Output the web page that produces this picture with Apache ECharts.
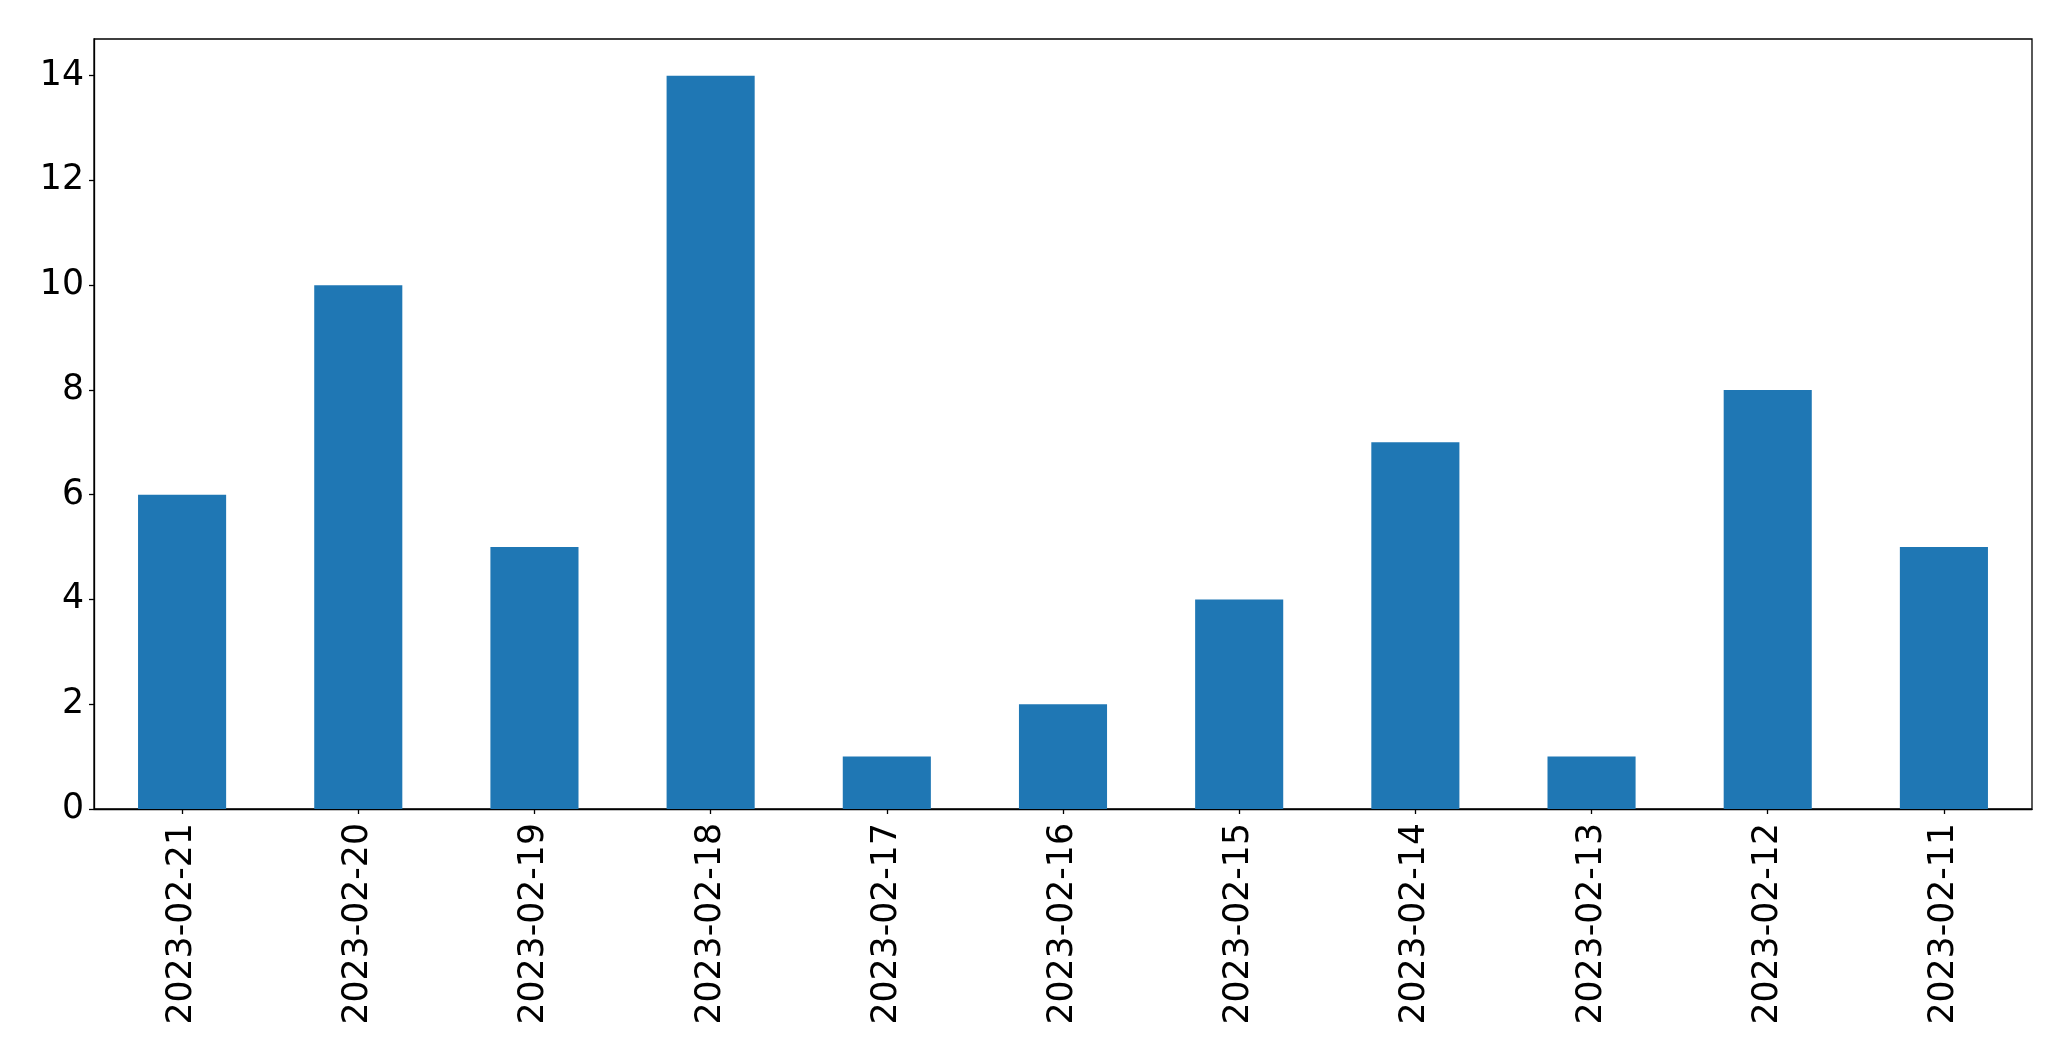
<!DOCTYPE html>
<html>
<head>
<meta charset="utf-8">
<script src="https://cdn.jsdelivr.net/npm/echarts@6/dist/echarts.min.js"></script>
<style>
html,body{margin:0;padding:0;background:#fff;}
#chart{width:2071px;height:1061px;}
</style>
</head>
<body>
<div id="chart"></div>
<script>
const categories = ['2023-02-21','2023-02-20','2023-02-19','2023-02-18','2023-02-17','2023-02-16','2023-02-15','2023-02-14','2023-02-13','2023-02-12','2023-02-11'];
const values = [6, 10, 5, 14, 1, 2, 4, 7, 1, 8, 5];
const yTicks = [0, 2, 4, 6, 8, 10, 12, 14];

const chart = echarts.init(document.getElementById('chart'), null, {renderer: 'canvas'});
const font = {fontFamily: 'DejaVu Sans', fontSize: 34.7, color: '#000'};
chart.setOption({
  animation: false,
  backgroundColor: '#fff',
  grid: {left: 94, right: 39, top: 39, bottom: 252, show: true, borderColor: '#000', borderWidth: 1.3, backgroundColor: 'transparent'},
  xAxis: {
    type: 'category',
    data: categories,
    boundaryGap: true,
    axisLine: {show: true, lineStyle: {color: '#000', width: 1.3}},
    axisTick: {show: true, alignWithLabel: true, length: 5, inside: false, lineStyle: {color: '#000', width: 1.3}},
    axisLabel: Object.assign({rotate: 90, margin: 14, interval: 0}, font),
    splitLine: {show: false}
  },
  yAxis: {
    type: 'value',
    min: 0,
    max: 14.7,
    interval: 2,
    axisLine: {show: true, lineStyle: {color: '#000', width: 1.3}},
    axisTick: {show: true, length: 5, inside: false, customValues: yTicks, lineStyle: {color: '#000', width: 1.3}},
    axisLabel: Object.assign({margin: 10, customValues: yTicks}, font),
    splitLine: {show: false}
  },
  series: [{
    type: 'bar',
    data: values,
    barWidth: '50%',
    itemStyle: {color: '#1f77b4'}
  }]
});
</script>
</body>
</html>
